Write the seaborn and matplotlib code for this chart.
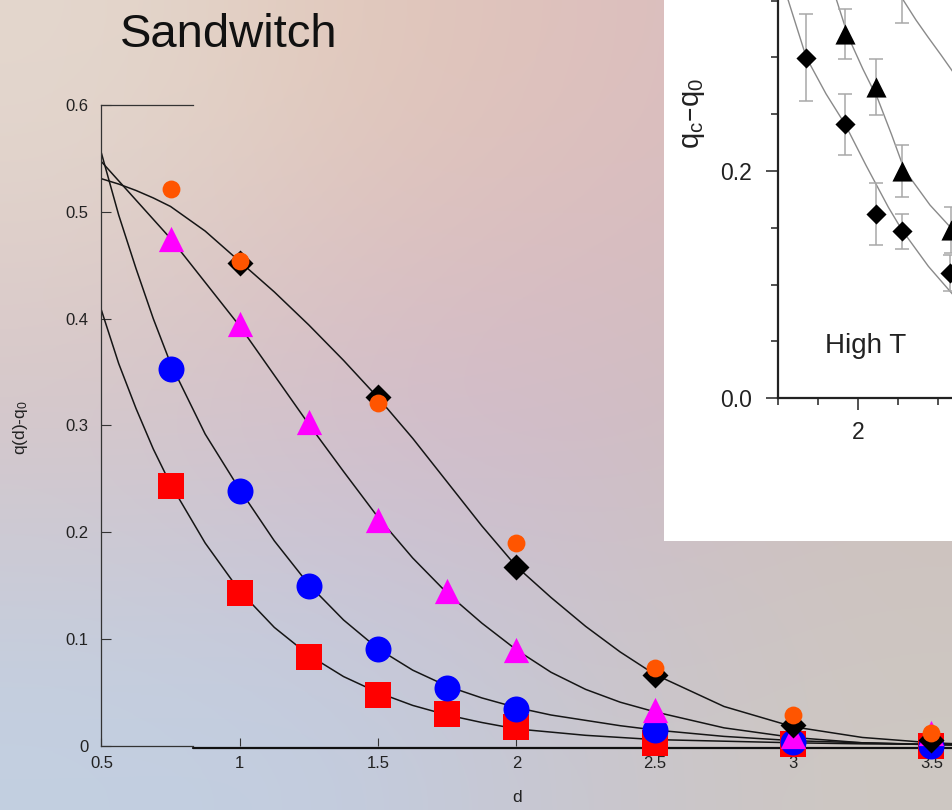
import numpy as np
import pandas as pd
import matplotlib
matplotlib.use("Agg")
import matplotlib.pyplot as plt
import matplotlib.colors as mcolors
from matplotlib.patches import Rectangle
from matplotlib.ticker import FixedLocator, MultipleLocator, FormatStrFormatter
import seaborn as sns

# ---------------- main panel data ----------------
d_full = [0.75, 1.0, 1.25, 1.5, 1.75, 2.0, 2.5, 3.0, 3.5]
orange_d = [0.75, 1.0, 1.5, 2.0, 2.5, 3.0, 3.5]
orange_q = [0.521, 0.454, 0.321, 0.190, 0.073, 0.029, 0.012]
diamond_d = [1.0, 1.5, 2.0, 2.5, 3.0, 3.5]
diamond_q = [0.452, 0.327, 0.168, 0.066, 0.020, 0.006]
triangle_q = [0.475, 0.395, 0.303, 0.212, 0.145, 0.090, 0.034, 0.009, 0.012]
blue_q = [0.353, 0.239, 0.150, 0.091, 0.054, 0.035, 0.015, 0.004, 0.000]
square_q = [0.243, 0.143, 0.083, 0.048, 0.030, 0.018, 0.003, 0.002, 0.000]

# fitted curves
fit_d = [0.5, 0.5625, 0.625, 0.6875, 0.75, 0.875, 1.0, 1.125, 1.25, 1.375, 1.5,
         1.625, 1.75, 1.875, 2.0, 2.125, 2.25, 2.375, 2.5, 2.75, 3.0, 3.25, 3.5, 3.6]
fit_diamond = [0.531, 0.526, 0.520, 0.513, 0.505, 0.482, 0.4535, 0.425, 0.394, 0.361, 0.326,
               0.288, 0.247, 0.206, 0.168, 0.139, 0.112, 0.088, 0.067, 0.037, 0.018, 0.008, 0.003, 0.002]
fit_triangle = [0.547, 0.529, 0.511, 0.493, 0.475, 0.434, 0.393, 0.347, 0.301, 0.257, 0.214,
                0.176, 0.143, 0.115, 0.090, 0.069, 0.053, 0.041, 0.032, 0.017, 0.008, 0.003, 0.0012, 0.001]
fit_circle = [0.555, 0.497, 0.447, 0.400, 0.358, 0.292, 0.240, 0.192, 0.151, 0.118, 0.091,
              0.071, 0.056, 0.045, 0.036, 0.029, 0.024, 0.019, 0.015, 0.009, 0.005, 0.003, 0.0015, 0.001]
fit_square = [0.408, 0.358, 0.316, 0.278, 0.245, 0.190, 0.145, 0.111, 0.085, 0.065, 0.050,
              0.038, 0.029, 0.022, 0.016, 0.013, 0.010, 0.008, 0.006, 0.0045, 0.003, 0.002, 0.0015, 0.001]

x_ticks = [0.5, 1, 1.5, 2, 2.5, 3, 3.5]
y_ticks = [0, 0.1, 0.2, 0.3, 0.4, 0.5, 0.6]

# ---------------- inset data ----------------
ins_diamond_r = [1.677, 1.92, 2.115, 2.275, 2.573]
ins_diamond_q = [0.300, 0.241, 0.162, 0.147, 0.110]
ins_diamond_err = [0.038, 0.027, 0.0275, 0.0155, 0.016]
ins_triangle_r = [1.92, 2.115, 2.275, 2.583]
ins_triangle_q = [0.321, 0.274, 0.200, 0.148]
ins_triangle_err = [0.022, 0.0245, 0.023, 0.020]
ins_top_r = [2.275]
ins_top_q = [0.364]
ins_top_err = [0.034]
ins_fitA_r = [1.5625, 1.677, 1.80, 1.92, 2.05, 2.19, 2.275, 2.44, 2.6]
ins_fitA_q = [0.351, 0.300, 0.268, 0.241, 0.205, 0.168, 0.148, 0.116, 0.090]
ins_fitB_r = [1.865, 1.94, 2.03, 2.125, 2.21, 2.29, 2.45, 2.6]
ins_fitB_q = [0.351, 0.318, 0.290, 0.263, 0.232, 0.201, 0.170, 0.147]
ins_fitC_r = [2.281, 2.3625, 2.4375, 2.52, 2.6]
ins_fitC_q = [0.351, 0.333, 0.318, 0.302, 0.286]

# ---------------- style ----------------
sns.set_style("ticks")
plt.rcParams["font.family"] = ["Liberation Sans", "DejaVu Sans"]
plt.rcParams["mathtext.default"] = "regular"

W, H = 953, 810
fig = plt.figure(figsize=(W / 100, H / 100), dpi=100)

# slide background gradient
bg_hex = [
    ["#e4d8ce", "#e2c9ba", "#dec0bd", "#d8bcc0"],
    ["#d7c4c6", "#d4b9c9", "#d1b9c7", "#cdbfbc"],
    ["#c2d0e2", "#c2cde0", "#c9c6ce", "#cec8c2"],
]
bg_rgb = np.array([[mcolors.to_rgb(c) for c in row] for row in bg_hex])
bg = fig.add_axes([0, 0, 1, 1], zorder=-10)
bg.imshow(bg_rgb, extent=[0, 1, 0, 1], aspect="auto", interpolation="bicubic")
bg.set_axis_off()

# ---------------- main axes ----------------
x0, x1 = 101.4, 953.0
xlim_right = 0.5 + (x1 - x0) / 276.7
ax = fig.add_axes([x0 / W, (H - 746) / H, (x1 - x0) / W, (746 - 105) / H], zorder=0)
ax.set_facecolor("none")

line_kw = dict(color="#151515", linewidth=1.1, estimator=None, sort=False, ax=ax, zorder=2)
for fy in (fit_diamond, fit_triangle, fit_circle, fit_square):
    sns.lineplot(x=fit_d, y=fy, **line_kw)

sc_kw = dict(ax=ax, linewidth=0, clip_on=False, zorder=3, legend=False)
sns.scatterplot(x=d_full, y=square_q, marker="s", s=350, color="#ff0000", **sc_kw)
sns.scatterplot(x=d_full, y=blue_q, marker="o", s=350, color="#0000ff", **sc_kw)
sns.scatterplot(x=d_full, y=triangle_q, marker="^", s=330, color="#ff00ff", **sc_kw)
sns.scatterplot(x=diamond_d, y=diamond_q, marker="D", s=175, color="#000000", **sc_kw)
sns.scatterplot(x=orange_d, y=orange_q, marker="o", s=165, color="#ff5500", **sc_kw)

ax.set_xlim(0.5, xlim_right)
ax.set_ylim(0, 0.6)
ax.xaxis.set_major_locator(FixedLocator(x_ticks))
ax.yaxis.set_major_locator(FixedLocator(y_ticks))
ax.xaxis.set_major_formatter(FormatStrFormatter("%g"))
ax.yaxis.set_major_formatter(FormatStrFormatter("%g"))
ax.tick_params(axis="both", which="major", direction="in", width=0.8, color="#333333",
               labelsize=12, labelcolor="#222222")
ax.tick_params(axis="y", length=7, pad=9.5)
ax.tick_params(axis="x", length=6, pad=7.5)
step_x = 0.832
for side in ("left", "top", "bottom"):
    ax.spines[side].set_color("#333333")
    ax.spines[side].set_linewidth(0.9)
ax.spines["right"].set_visible(False)
ax.spines["top"].set_bounds(0.5, step_x)
ax.spines["bottom"].set_bounds(0.5, step_x)
ax.axhline(-0.0018, xmin=(step_x - 0.5) / (xlim_right - 0.5), xmax=1.0,
           color="#111111", linewidth=1.6, clip_on=False, zorder=2.5)

ax.set_xlabel("d", fontsize=12.5, color="#222222", va="center")
ax.xaxis.set_label_coords((517 - x0) / (x1 - x0), -(798 - 746) / (746 - 105))
ax.set_ylabel("q(d)-q$_0$", fontsize=12.5, color="#222222", va="center")
ax.yaxis.set_label_coords((20 - x0) / (x1 - x0), (746 - 428) / (746 - 105))

fig.text(120 / W, 1 - 46.7 / H, "Sandwitch", fontsize=34, ha="left", va="baseline",
         color="#111111")

# ---------------- inset ----------------
fig.add_artist(Rectangle((664 / W, (H - 541) / H), 1 - 664 / W, 541 / H,
                         transform=fig.transFigure, facecolor="white",
                         edgecolor="none", zorder=2))

ins = fig.add_axes([778 / W, (H - 398) / H, (W - 778) / W, 398 / H], zorder=3)
ins.set_facecolor("none")
ins_xr = 1.5 + (W - 778) / 160.0
ins_yt = 398 / 1135.0

for fr, fq in ((ins_fitA_r, ins_fitA_q), (ins_fitB_r, ins_fitB_q), (ins_fitC_r, ins_fitC_q)):
    sns.lineplot(x=fr, y=fq, color="#8a8a8a", linewidth=1.0, estimator=None, sort=False,
                 ax=ins, zorder=1)

err_kw = dict(fmt="none", ecolor="#a8a8a8", elinewidth=1.1, capsize=4.8, capthick=1.1, zorder=2)
ins.errorbar(ins_diamond_r, ins_diamond_q, yerr=ins_diamond_err, **err_kw)
ins.errorbar(ins_triangle_r, ins_triangle_q, yerr=ins_triangle_err, **err_kw)
ins.errorbar(ins_top_r, ins_top_q, yerr=ins_top_err, **err_kw)

sns.scatterplot(x=ins_diamond_r, y=ins_diamond_q, marker="D", s=105, color="black",
                linewidth=0, ax=ins, zorder=3, legend=False)
sns.scatterplot(x=ins_triangle_r, y=ins_triangle_q, marker="^", s=210, color="black",
                linewidth=0, ax=ins, zorder=3, legend=False)
sns.scatterplot(x=ins_top_r, y=ins_top_q, marker="o", s=150, color="black",
                linewidth=0, ax=ins, zorder=3, legend=False)

ins.set_xlim(1.5, ins_xr)
ins.set_ylim(0, ins_yt)
ins.xaxis.set_major_locator(FixedLocator([2, 3]))
ins.xaxis.set_minor_locator(MultipleLocator(0.25))
ins.yaxis.set_major_locator(FixedLocator([0.0, 0.2]))
ins.yaxis.set_minor_locator(MultipleLocator(0.05))
ins.xaxis.set_major_formatter(FormatStrFormatter("%g"))
ins.yaxis.set_major_formatter(FormatStrFormatter("%.1f"))
ins.tick_params(which="major", direction="out", length=8.6, width=1.1, color="#222222",
                labelsize=16.5, labelcolor="#222222")
ins.tick_params(which="minor", direction="out", length=5, width=1.1, color="#222222")
ins.tick_params(axis="x", which="major", pad=8)
ins.tick_params(axis="y", which="major", pad=10)
for side in ("left", "bottom"):
    ins.spines[side].set_color("#222222")
    ins.spines[side].set_linewidth(1.6)
for side in ("top", "right"):
    ins.spines[side].set_visible(False)

ins.set_ylabel("q$_c$\u2013q$_0$", fontsize=21, color="#222222", va="center")
ins.yaxis.set_label_coords((693.5 - 778) / (W - 778), (398 - 113.5) / 398)
ins.text(1.792, 0.0394, "High T", fontsize=20, ha="left", va="baseline", color="#222222")

fig.savefig("out.png", dpi=100)
